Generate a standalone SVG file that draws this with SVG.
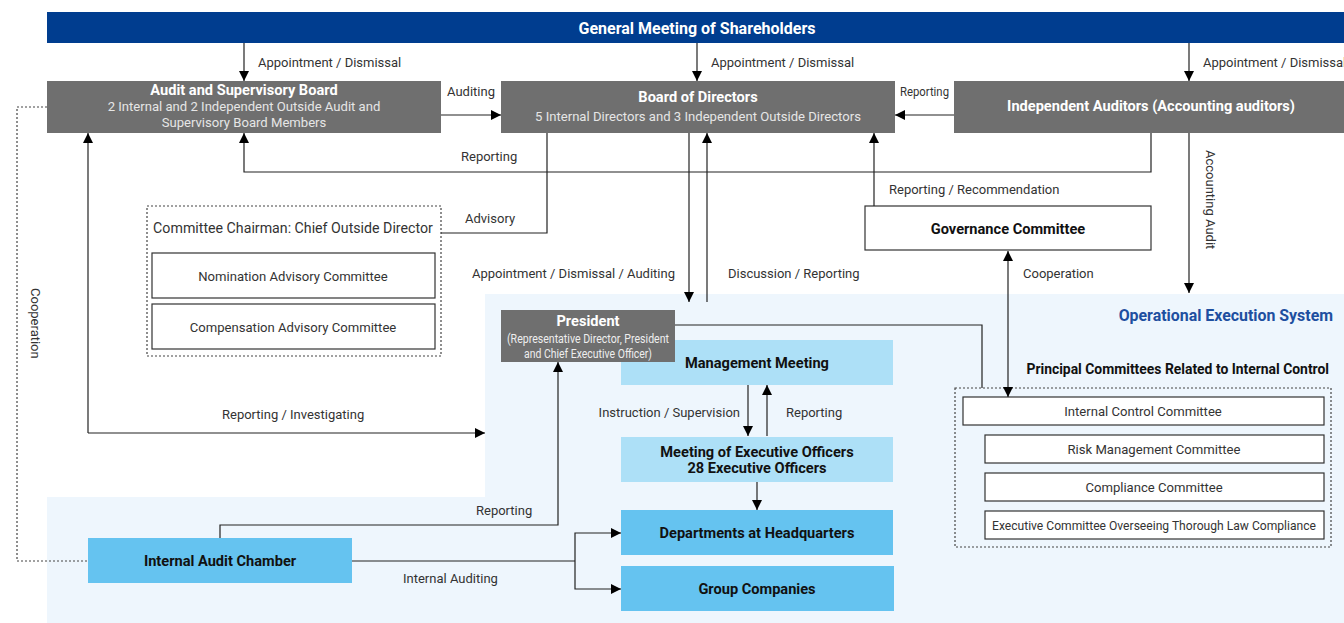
<svg xmlns="http://www.w3.org/2000/svg" width="1344" height="623" viewBox="0 0 1344 623">
<defs>
<marker id="ah" viewBox="0 0 10 10" refX="10" refY="5" markerWidth="10" markerHeight="10" markerUnits="userSpaceOnUse" orient="auto-start-reverse">
<path d="M0,0 L10,5 L0,10 z" fill="#000"/>
</marker>
<style>
text{font-family:Roboto,"Liberation Sans",sans-serif;}
.lbl{font-size:13px;fill:#333;}
.gray{fill:#6f6f6f;}
.wt{font-size:14.6px;font-weight:bold;fill:#fff;}
.ws{font-size:13.1px;fill:#e6e6e6;}
.bt{font-size:14.6px;font-weight:bold;fill:#111;}
.box{fill:#fff;stroke:#333;stroke-width:1.2;}
.sub{font-size:13.1px;fill:#333;}
.ln{fill:none;stroke:#222;stroke-width:1.2;}
.arr{fill:none;stroke:#222;stroke-width:1.2;marker-end:url(#ah);}
.dot{fill:none;stroke:#444;stroke-width:1.2;stroke-dasharray:2 2;}
.lb{fill:#ade0f7;}
.mb{fill:#65c3f0;}
.pres{font-size:12.5px;fill:#eee;}
</style>
</defs>
<rect width="1344" height="623" fill="#fff"/>
<g id="opsys">
<path d="M485,294 H1344 V623 H47 V497 H485 Z" fill="#eef6fd"/>
<text x="1333" y="321" text-anchor="end" style="font-size:15.9px;font-weight:bold;fill:#1e4fa0">Operational Execution System</text>
</g>
<g id="gms">
<rect x="47" y="12" width="1297" height="31" fill="#003d8f"/>
<text x="697" y="33.5" text-anchor="middle" style="font-size:16px;font-weight:bold;fill:#fff">General Meeting of Shareholders</text>
</g>
<g id="asb">
<rect x="47" y="81" width="394" height="52" class="gray"/>
<text x="244" y="95" text-anchor="middle" class="wt">Audit and Supervisory Board</text>
<text x="244" y="111" text-anchor="middle" class="ws">2 Internal and 2 Independent Outside Audit and</text>
<text x="244" y="127" text-anchor="middle" class="ws">Supervisory Board Members</text>
</g>
<g id="bod">
<rect x="501" y="81" width="394" height="52" class="gray"/>
<text x="698" y="102" text-anchor="middle" class="wt">Board of Directors</text>
<text x="698" y="121" text-anchor="middle" class="ws">5 Internal Directors and 3 Independent Outside Directors</text>
</g>
<g id="ia">
<rect x="954" y="81" width="390" height="52" class="gray"/>
<text x="1151" y="111" text-anchor="middle" class="wt">Independent Auditors (Accounting auditors)</text>
</g>
<g id="gov">
<rect x="865" y="206" width="286" height="44" class="box"/>
<text x="1008" y="234" text-anchor="middle" class="bt">Governance Committee</text>
</g>
<g id="advisory">
<rect x="147" y="206" width="294" height="150" fill="#efefef" class="dot"/>
<text x="293" y="233" text-anchor="middle" style="font-size:14.2px;fill:#333">Committee Chairman: Chief Outside Director</text>
</g>
<g id="nom">
<rect x="152" y="253" width="283" height="45" class="box"/>
<text x="293" y="281" text-anchor="middle" class="sub">Nomination Advisory Committee</text>
</g>
<g id="comp">
<rect x="152" y="304" width="283" height="45" class="box"/>
<text x="293" y="332" text-anchor="middle" class="sub">Compensation Advisory Committee</text>
</g>
<g id="mm">
<rect x="621" y="340" width="272" height="45" class="lb"/>
<text x="757" y="368" text-anchor="middle" class="bt">Management Meeting</text>
</g>
<g id="president">
<rect x="501" y="310" width="174" height="52" class="gray"/>
<text x="588" y="326" text-anchor="middle" class="wt">President</text>
<text x="588" y="342.5" text-anchor="middle" class="pres" textLength="162" lengthAdjust="spacingAndGlyphs">(Representative Director, President</text>
<text x="588" y="357.5" text-anchor="middle" class="pres" textLength="128" lengthAdjust="spacingAndGlyphs">and Chief Executive Officer)</text>
</g>
<g id="meo">
<rect x="621" y="437" width="272" height="45" class="lb"/>
<text x="757" y="457" text-anchor="middle" class="bt">Meeting of Executive Officers</text>
<text x="757" y="473" text-anchor="middle" class="bt">28 Executive Officers</text>
</g>
<g id="dept">
<rect x="621" y="510" width="272" height="45" class="mb"/>
<text x="757" y="538" text-anchor="middle" class="bt">Departments at Headquarters</text>
</g>
<g id="group">
<rect x="621" y="566" width="273" height="45" class="mb"/>
<text x="757" y="594" text-anchor="middle" class="bt">Group Companies</text>
</g>
<g id="iac">
<rect x="88" y="538" width="264" height="45" class="mb"/>
<text x="220" y="566" text-anchor="middle" class="bt">Internal Audit Chamber</text>
</g>
<g id="principal">
<text x="1329" y="374" text-anchor="end" class="bt" style="font-size:13.9px">Principal Committees Related to Internal Control</text>
<rect x="955" y="388" width="376" height="159" fill="none" class="dot"/>
</g>
<g id="icc">
<rect x="963" y="397" width="361" height="28" class="box"/>
<text x="1143" y="415.5" text-anchor="middle" class="sub">Internal Control Committee</text>
</g>
<g id="rmc">
<rect x="985" y="435" width="339" height="28" class="box"/>
<text x="1154" y="453.5" text-anchor="middle" class="sub">Risk Management Committee</text>
</g>
<g id="cc">
<rect x="985" y="473" width="339" height="28" class="box"/>
<text x="1154" y="491.5" text-anchor="middle" class="sub">Compliance Committee</text>
</g>
<g id="ecc">
<rect x="985" y="511" width="339" height="28" class="box"/>
<text x="1154" y="529.5" text-anchor="middle" class="sub" textLength="324" lengthAdjust="spacingAndGlyphs">Executive Committee Overseeing Thorough Law Compliance</text>
</g>
<g id="connectors">
<path class="arr" d="M244,43 V81"/>
<path class="arr" d="M697,43 V81"/>
<path class="arr" d="M1189,43 V81"/>
<path class="arr" d="M441,115 H501"/>
<path class="arr" d="M954,115 H895"/>
<path class="arr" d="M1151,133 V172 H244 V133"/>
<path class="arr" d="M1189,133 V293"/>
<path class="arr" d="M874,206 V133"/>
<path class="ln" d="M1008,251 V397" style="marker-start:url(#ah);marker-end:url(#ah)"/>
<path class="ln" d="M547,133 V233 H441"/>
<path class="arr" d="M689,133 V302"/>
<path class="arr" d="M707,302 V133"/>
<path class="ln" d="M675,325 H982 V388"/>
<path class="arr" d="M748,385 V436"/>
<path class="arr" d="M767,436 V385"/>
<path class="arr" d="M757,482 V510"/>
<path class="arr" d="M220,538 V525 H558 V362"/>
<path class="ln" d="M352,561 H575"/>
<path class="arr" d="M575,561 V533 H621"/>
<path class="arr" d="M575,561 V589 H621"/>
<path class="ln" d="M88,433 V133" style="marker-end:url(#ah)"/>
<path class="arr" d="M88,433 H485"/>
<path class="dot" d="M47,107 H17 V561 H88"/>
</g>
<g id="labels">
<text x="258" y="67" class="lbl">Appointment / Dismissal</text>
<text x="711" y="67" class="lbl">Appointment / Dismissal</text>
<text x="1203" y="67" class="lbl">Appointment / Dismissal</text>
<text x="447" y="96" class="lbl">Auditing</text>
<text x="900" y="96" class="lbl" style="font-size:12px" textLength="49" lengthAdjust="spacingAndGlyphs">Reporting</text>
<text x="461" y="161" class="lbl">Reporting</text>
<text x="889" y="194" class="lbl">Reporting / Recommendation</text>
<text x="465" y="223" class="lbl">Advisory</text>
<text x="1023" y="278" class="lbl">Cooperation</text>
<text x="675" y="278" text-anchor="end" class="lbl">Appointment / Dismissal / Auditing</text>
<text x="728" y="278" class="lbl">Discussion / Reporting</text>
<text x="740" y="417" text-anchor="end" class="lbl">Instruction / Supervision</text>
<text x="786" y="417" class="lbl">Reporting</text>
<text x="222" y="419" class="lbl">Reporting / Investigating</text>
<text x="476" y="515" class="lbl">Reporting</text>
<text x="403" y="583" class="lbl">Internal Auditing</text>
<text transform="translate(1206,150) rotate(90)" class="lbl">Accounting Audit</text>
<text transform="translate(31,288) rotate(90)" class="lbl">Cooperation</text>
</g>
</svg>
